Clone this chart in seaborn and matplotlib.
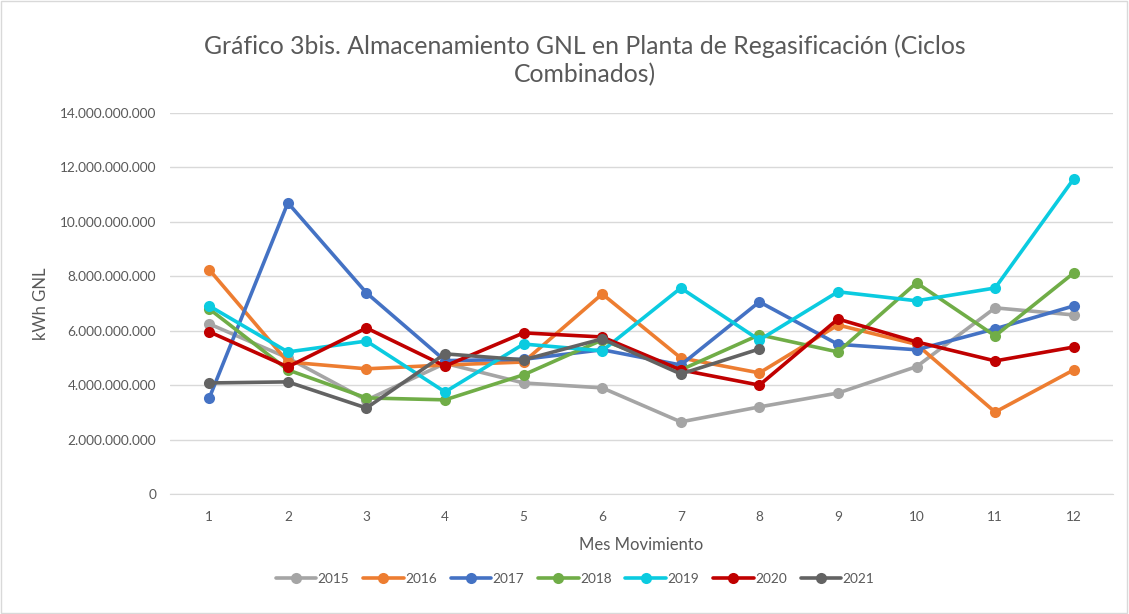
import pandas as pd
import matplotlib.pyplot as plt
import matplotlib.ticker as mticker
from matplotlib.patches import Rectangle
import seaborn as sns

meses = list(range(1, 13))
anios = ['2015', '2016', '2017', '2018', '2019', '2020', '2021']

v2015 = [6.25e9, 5.0e9, 3.45e9, 4.8e9, 4.08e9, 3.9e9, 2.65e9, 3.2e9, 3.71e9, 4.68e9, 6.84e9, 6.58e9]
v2016 = [8.24e9, 4.85e9, 4.6e9, 4.74e9, 4.85e9, 7.35e9, 5.0e9, 4.45e9, 6.21e9, 5.5e9, 3.01e9, 4.56e9]
v2017 = [3.53e9, 10.7e9, 7.39e9, 4.9e9, 4.95e9, 5.3e9, 4.74e9, 7.06e9, 5.5e9, 5.3e9, 6.07e9, 6.91e9]
v2018 = [6.8e9, 4.56e9, 3.53e9, 3.46e9, 4.38e9, 5.66e9, 4.56e9, 5.85e9, 5.22e9, 7.76e9, 5.81e9, 8.12e9]
v2019 = [6.91e9, 5.22e9, 5.62e9, 3.75e9, 5.51e9, 5.26e9, 7.57e9, 5.66e9, 7.43e9, 7.1e9, 7.57e9, 11.58e9]
v2020 = [5.96e9, 4.67e9, 6.1e9, 4.7e9, 5.92e9, 5.77e9, 4.56e9, 4.0e9, 6.43e9, 5.59e9, 4.89e9, 5.4e9]
v2021 = [4.08e9, 4.12e9, 3.16e9, 5.15e9, 4.93e9, 5.7e9, 4.41e9, 5.33e9, None, None, None, None]

colores = ['#A5A5A5', '#ED7D31', '#4472C4', '#70AD47', '#0BCBE0', '#C00000', '#636363']

series = [v2015, v2016, v2017, v2018, v2019, v2020, v2021]
filas = []
for anio, vals in zip(anios, series):
    for m, v in zip(meses, vals):
        if v is not None:
            filas.append({'mes': m, 'kwh': v, 'anio': anio})
df = pd.DataFrame(filas)

sns.set_style('white')
plt.rcParams['font.family'] = ['Lato', 'DejaVu Sans']

fig = plt.figure(figsize=(11.29, 6.14), dpi=100)
ax = fig.add_axes([170 / 1129, 1 - 494 / 614, (1113 - 170) / 1129, (494 - 113) / 614])

sns.lineplot(data=df, x='mes', y='kwh', hue='anio', hue_order=anios,
             palette=dict(zip(anios, colores)), marker='o', markersize=8,
             markeredgewidth=0, linewidth=2.6, ax=ax, legend=True)

ax.set_xlim(0.5, 12.5)
ax.set_ylim(0, 14e9)
ax.set_xticks(meses)
ax.yaxis.set_major_locator(mticker.MultipleLocator(2e9))
ax.yaxis.set_major_formatter(mticker.FuncFormatter(
    lambda v, p: '0' if v == 0 else f'{int(v):,}'.replace(',', '.')))
ax.grid(axis='y', color='#D9D9D9', linewidth=1)
ax.set_axisbelow(True)
for s in ['top', 'right', 'left']:
    ax.spines[s].set_visible(False)
ax.spines['bottom'].set_color('#D9D9D9')
ax.tick_params(axis='both', length=0, labelsize=9.8, labelcolor='#595959')
ax.tick_params(axis='x', pad=12)
ax.tick_params(axis='y', pad=10)

ax.set_xlabel('Mes Movimiento', fontsize=12, color='#595959', labelpad=10)
ax.set_ylabel('kWh GNL', fontsize=12, color='#595959', labelpad=8)

fig.text(585 / 1129, 1 - 60 / 614, 'Gráfico 3bis. Almacenamiento GNL en Planta de Regasificación (Ciclos\nCombinados)',
         ha='center', va='center', fontsize=17.8, color='#595959', linespacing=1.25)

handles, labels = ax.get_legend_handles_labels()
ax.legend(handles, labels, loc='center', bbox_to_anchor=(575 / 1129, 1 - 579 / 614),
          bbox_transform=fig.transFigure, ncol=7, frameon=False, fontsize=9.8,
          handlelength=3.0, columnspacing=1.0, handletextpad=0.1, labelcolor='#595959')

fig.patches.append(Rectangle((0.001, 0.001), 0.997, 0.997, transform=fig.transFigure,
                             fill=False, edgecolor='#D9D9D9', linewidth=1))

fig.savefig('out.png', dpi=100)
